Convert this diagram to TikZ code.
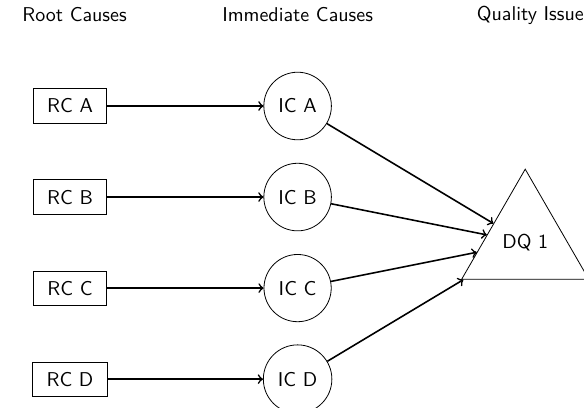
\documentclass[tikz,border=0pt]{standalone}
\usepackage{tikz}
\usetikzlibrary{arrows,shapes.geometric}

\begin{document}
\begin{tikzpicture}[font=\sffamily]

\tikzstyle{head} = []
\tikzstyle{root} = [rectangle, draw=black, inner xsep=7pt, inner ysep=5pt]
\tikzstyle{cause} = [circle, draw=black, inner sep=5pt]
\tikzstyle{issue} = [regular polygon, regular polygon sides=3, draw=black, inner sep=0pt, minimum size=2.58cm]
\tikzstyle{link} = [->, thick]

\useasboundingbox (-1.23,-5.307) rectangle (9.033,1.863);

\node[head] (hroot) at (0.08, 1.6) {Root Causes};
\node[head] (himm) at (4, 1.6) {Immediate Causes};
\node[head] (hqual) at (8.09, 1.6) {Quality Issue};

\node[root] (rca) at (0, 0) {RC A};
\node[root] (rcb) at (0, -1.6) {RC B};
\node[root] (rcc) at (0, -3.2) {RC C};
\node[root] (rcd) at (0, -4.8) {RC D};

\node[cause] (ica) at (4, 0) {IC A};
\node[cause] (icb) at (4, -1.6) {IC B};
\node[cause] (icc) at (4, -3.2) {IC C};
\node[cause] (icd) at (4, -4.8) {IC D};

\node[issue] (dq) at (8, -2.4) {DQ 1};

\draw[link] (rca) -- (ica);
\draw[link] (rcb) -- (icb);
\draw[link] (rcc) -- (icc);
\draw[link] (rcd) -- (icd);

\draw[link] (ica) -- (dq);
\draw[link] (icb) -- (dq);
\draw[link] (icc) -- (dq);
\draw[link] (icd) -- (dq);

\end{tikzpicture}
\end{document}
